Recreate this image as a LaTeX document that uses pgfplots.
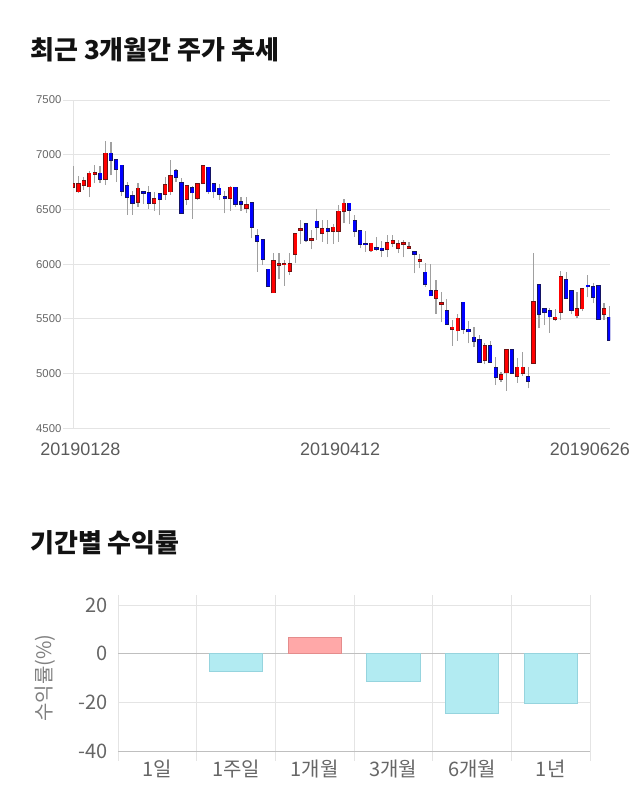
\documentclass[border=0pt]{standalone}
\usepackage{fontspec}
\setmainfont{Liberation Sans}
\newfontfamily\kr{Noto Sans CJK KR}
\usepackage{pgfplots}
\usepackage{pgfplotstable}
\pgfplotsset{compat=1.18}
\definecolor{gridc}{RGB}{228,228,228}
\definecolor{tickgray}{RGB}{102,102,102}
\definecolor{labgray}{RGB}{90,90,90}
\definecolor{wick}{RGB}{160,160,160}
\definecolor{upfill}{RGB}{255,0,0}
\definecolor{upedge}{RGB}{110,20,20}
\definecolor{dnfill}{RGB}{0,0,255}
\definecolor{dnedge}{RGB}{20,20,100}
\definecolor{cyanbar}{RGB}{178,235,242}
\definecolor{cyanedge}{RGB}{150,212,222}
\definecolor{redbar}{RGB}{255,168,168}
\definecolor{rededge}{RGB}{228,140,140}

\pgfplotstableread{
i o h l c
0 6702 6897 6700 6732
1 6662 6805 6653 6732
2 6720 6800 6680 6763
3 6708 6854 6610 6830
4 6825 6906 6740 6835
6 6775 7125 6723 7012
12 6570 6744 6525 6692
15 6561 6659 6488 6598
17 6641 6793 6586 6723
18 6662 6952 6632 6805
21 6592 6714 6543 6714
23 6601 6732 6590 6732
24 6738 6900 6730 6897
29 6601 6714 6488 6702
32 6510 6616 6470 6540
37 5739 6098 5739 6031
38 5990 6098 5861 6005
39 5998 6040 5805 6006
40 5940 6098 5900 6001
41 6092 6281 6007 6275
42 6311 6403 6184 6322
44 6223 6311 6135 6234
46 6281 6403 6205 6320
48 6302 6370 6184 6336
49 6302 6540 6205 6482
50 6482 6592 6372 6555
55 6123 6190 6114 6190
58 6135 6266 6062 6196
59 6190 6266 6160 6214
60 6144 6220 6100 6184
61 6184 6220 6062 6195
62 6147 6205 6135 6160
64 6026 6092 5961 6036
67 5693 5855 5544 5754
68 5632 5748 5474 5648
70 5404 5489 5254 5422
71 5392 5544 5300 5504
76 5123 5282 5084 5251
79 4947 5017 4925 4986
80 5008 5215 4843 5215
82 4977 5139 4916 5057
83 5002 5194 4977 5057
85 5099 6105 5099 5654
89 5495 5590 5480 5514
90 5559 5940 5489 5885
93 5529 5748 5504 5593
94 5593 5772 5570 5772
98 5544 5648 5489 5593
}\up

\pgfplotstableread{
i o h l c
5 6830 6900 6740 6775
7 7012 7116 6811 6952
8 6952 6960 6750 6872
9 6903 6903 6622 6671
10 6714 6753 6452 6610
11 6622 6671 6452 6561
13 6658 6665 6549 6650
14 6653 6714 6506 6561
16 6641 6641 6446 6592
19 6854 6872 6750 6793
20 6744 6790 6470 6470
22 6696 6714 6415 6653
25 6885 6885 6640 6662
26 6732 6732 6601 6662
27 6692 6732 6586 6641
28 6612 6671 6464 6602
30 6702 6702 6525 6549
31 6570 6610 6488 6549
33 6561 6561 6235 6342
34 6257 6318 5931 6211
35 6220 6220 5992 6043
36 5952 5952 5800 5800
43 6366 6366 6205 6220
45 6391 6500 6220 6342
47 6320 6403 6184 6302
51 6555 6555 6366 6494
52 6397 6449 6251 6302
53 6302 6302 6144 6184
54 6188 6305 6114 6180
56 6148 6250 6123 6140
57 6144 6214 6068 6129
63 6111 6114 5916 6092
65 5925 6007 5794 5815
66 5754 6001 5712 5712
69 5574 5678 5443 5453
72 5651 5651 5361 5404
73 5404 5483 5276 5383
74 5331 5422 5239 5300
75 5306 5352 5108 5108
77 5251 5300 5100 5108
78 5053 5148 4895 4965
81 5215 5215 5002 5002
84 4971 5063 4864 4932
86 5809 5809 5413 5541
87 5590 5596 5443 5562
88 5574 5596 5373 5520
91 5855 5925 5693 5693
92 5754 5754 5544 5580
95 5806 5900 5696 5794
96 5791 5824 5641 5702
97 5803 5803 5501 5501
99 5514 5620 5306 5306
}\down

\pgfplotsset{candle/.style={draw=none, mark=none, error bars/.cd, y dir=plus, y explicit, error mark=none}}

\begin{document}
\begin{tikzpicture}
\begin{scope}[x=0.75pt,y=-0.75pt]
\useasboundingbox (0,0) rectangle (640,810);
\node[anchor=west, inner sep=0pt, text=black!93, font=\kr\bfseries\fontsize{19.5}{22}\selectfont] at (30,50) {최근 3개월간 주가 추세};
\node[anchor=west, inner sep=0pt, text=black!93, font=\kr\bfseries\fontsize{19.5}{22}\selectfont] at (30,543) {기간별 수익률};
\end{scope}

\begin{axis}[
  at={(73*0.75pt,-428.3*0.75pt)}, anchor=south west,
  scale only axis, width=402.75pt, height=246.2pt,
  xmin=0, xmax=99.1, ymin=4500, ymax=7500,
  axis line style={draw=none},
  ytick={4500,5000,...,7500},
  ymajorgrids, major grid style={gridc, line width=0.75pt},
  ytick pos=left, tick align=outside,
  major tick length=7.5pt,
  major y tick style={gridc, line width=0.75pt},
  major x tick style={draw=none},
  xtick={1.35,49.3,95.4},
  xticklabels={20190128,20190412,20190626},
  extra x ticks={0}, extra x tick labels={},
  extra x tick style={grid=major},
  yticklabel style={font=\fontsize{8.5}{10}\selectfont, text=tickgray, inner sep=1pt},
  xticklabel style={font=\fontsize{13.5}{15}\selectfont, text=labgray},
  /pgf/number format/assume math mode=true,
  y tick label style={/pgf/number format/1000 sep={}},
  clip=true,
]
% wicks
\addplot[candle, error bar style={draw=wick, line width=0.9pt}]
  table[x=i, y=l, y error expr=\thisrow{h}-\thisrow{l}] {\up};
\addplot[candle, error bar style={draw=wick, line width=0.9pt}]
  table[x=i, y=l, y error expr=\thisrow{h}-\thisrow{l}] {\down};
% bodies: edges
\addplot[candle, error bar style={draw=upedge, line width=3.2pt}]
  table[x=i, y expr=\thisrow{o}-7, y error expr=\thisrow{c}-\thisrow{o}+14] {\up};
\addplot[candle, error bar style={draw=dnedge, line width=3.2pt}]
  table[x=i, y expr=\thisrow{c}-7, y error expr=\thisrow{o}-\thisrow{c}+14] {\down};
% bodies: fill
\addplot[candle, error bar style={draw=upfill, line width=2.2pt}]
  table[x=i, y=o, y error expr=\thisrow{c}-\thisrow{o}] {\up};
\addplot[candle, error bar style={draw=dnfill, line width=2.2pt}]
  table[x=i, y=c, y error expr=\thisrow{o}-\thisrow{c}] {\down};
\end{axis}

\begin{axis}[
  at={(118*0.75pt,-751*0.75pt)}, anchor=south west,
  scale only axis, width=354pt, height=109.5pt,
  xmin=-0.5, xmax=5.5, ymin=-40, ymax=20,
  axis line style={draw=none},
  xtick={0,...,5},
  xticklabels={1일,1주일,1개월,3개월,6개월,1년},
  minor xtick={-0.5,0.5,...,5.5},
  xminorgrids, minor grid style={gridc, line width=0.75pt},
  tick align=outside,
  minor tick length=7.5pt,
  minor x tick style={gridc, line width=0.75pt},
  major x tick style={draw=none},
  major tick length=0pt,
  ytick={-40,-20,0,20},
  ymajorgrids, major grid style={gridc, line width=0.75pt},
  major y tick style={draw=none},
  extra y ticks={0,-40}, extra y tick labels={},
  extra y tick style={major grid style={black!25, line width=0.75pt}},
  ticklabel style={font=\kr\fontsize{15}{16}\selectfont, text=tickgray},
  yticklabel style={xshift=-4pt},
  xticklabel style={yshift=-3pt},
  /pgf/number format/assume math mode=true,
  every axis y label/.style={at={(axis description cs:-0.155,0.5)}, rotate=90, anchor=center},
  ylabel={수익률(\%)},
  ylabel style={font=\kr\fontsize{15}{16}\selectfont, text=black!50},
]
\addplot[ybar, bar width=40pt, bar shift=0pt, fill=cyanbar, draw=cyanedge, line width=0.75pt]
  coordinates {(1,-7.5) (3,-11.5) (4,-24.5) (5,-20.5)};
\addplot[ybar, bar width=40pt, bar shift=0pt, fill=redbar, draw=rededge, line width=0.75pt]
  coordinates {(2,6.5)};
\end{axis}
\end{tikzpicture}
\end{document}
